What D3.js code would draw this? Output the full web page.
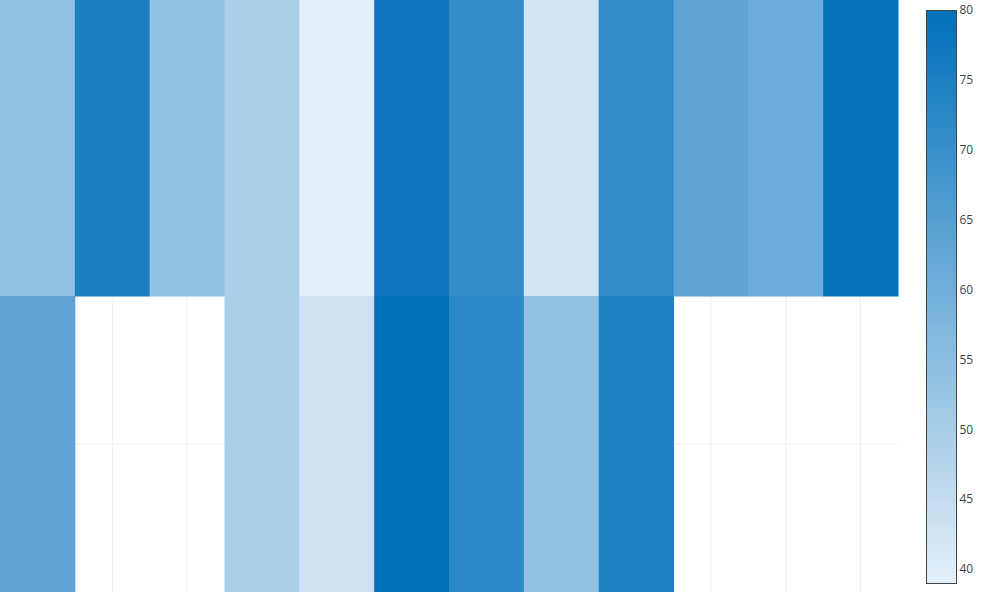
<!DOCTYPE html>
<html>
<head>
<meta charset="utf-8">
<script src="https://cdn.jsdelivr.net/npm/d3@7"></script>
<style>
  html, body { margin: 0; padding: 0; background: #fff; }
  svg { display: block; font-family: "Open Sans", "Noto Sans", sans-serif; }
</style>
</head>
<body>
<svg id="chart" width="982" height="592"></svg>
<script>
// ---- data ----
const columns = ["C1","C2","C3","C4","C5","C6","C7","C8","C9","C10","C11","C12"];
const rows = ["Row B", "Row A"]; // top to bottom
const rowBValues = [53.8, 75.4, 53.6, 49.3, 39.3, 77.3, 70.9, 42.4, 70.9, 63.2, 61.1, 79.2];
const rowAValues = [63.2, null, null, 49.3, 43.5, 80.0, 72.3, 53.8, 74.7, null, null, null];
const colorDomain = [39.0, 80.0];
const colorTicks = [40, 45, 50, 55, 60, 65, 70, 75, 80];
const colorRange = ["#e5f0f9", "#0070ba"];

// ---- layout ----
const svg = d3.select("#chart");
const plot = { left: 0, right: 898, top: 0, bottom: 592 };

const x = d3.scaleBand().domain(columns).range([plot.left, plot.right]).padding(0);
const y = d3.scaleBand().domain(rows).range([plot.top, plot.bottom]).padding(0);
const color = d3.scaleLinear().domain(colorDomain).range(colorRange).interpolate(d3.interpolateRgb).clamp(true);

// gridlines at category centres
const grid = svg.append("g");
grid.selectAll("line.vx").data(columns).join("line")
  .attr("x1", d => x(d) + x.bandwidth() / 2).attr("x2", d => x(d) + x.bandwidth() / 2)
  .attr("y1", plot.top).attr("y2", plot.bottom)
  .attr("stroke", "#eeeeee").attr("stroke-width", 1);
grid.selectAll("line.hy").data(rows).join("line")
  .attr("y1", d => y(d) + y.bandwidth() / 2).attr("y2", d => y(d) + y.bandwidth() / 2)
  .attr("x1", plot.left).attr("x2", plot.right)
  .attr("stroke", "#eeeeee").attr("stroke-width", 1);

// cells
const cells = [];
[[rows[0], rowBValues], [rows[1], rowAValues]].forEach(([r, vals]) => {
  vals.forEach((v, i) => { if (v !== null) cells.push({ row: r, col: columns[i], v }); });
});
svg.append("g").selectAll("rect").data(cells).join("rect")
  .attr("x", d => x(d.col)).attr("y", d => y(d.row))
  .attr("width", x.bandwidth() + 0.5).attr("height", y.bandwidth() + 0.5)
  .attr("fill", d => color(d.v));

// colorbar
const cb = { x: 926.5, y0: 10, y1: 583, w: 30 };
const cbScale = d3.scaleLinear().domain(colorDomain).range([cb.y1, cb.y0]);
const defs = svg.append("defs");
const grad = defs.append("linearGradient").attr("id", "cbgrad")
  .attr("x1", 0).attr("y1", 1).attr("x2", 0).attr("y2", 0);
d3.range(0, 1.0001, 0.1).forEach(t => {
  grad.append("stop").attr("offset", t)
    .attr("stop-color", color(colorDomain[0] + t * (colorDomain[1] - colorDomain[0])));
});
svg.append("rect")
  .attr("x", cb.x).attr("y", cb.y0 + 0.5)
  .attr("width", cb.w).attr("height", cb.y1 - cb.y0)
  .attr("fill", "url(#cbgrad)")
  .attr("stroke", "#444").attr("stroke-width", 1);

const axis = d3.axisRight(cbScale).tickValues(colorTicks).tickSize(0).tickPadding(3).tickFormat(d3.format("d"));
const ag = svg.append("g").attr("transform", `translate(${cb.x + cb.w},0)`).call(axis);
ag.select(".domain").remove();
ag.selectAll("text").attr("fill", "#444").style("font-size", "12px").style("font-family", '"Open Sans", sans-serif');
</script>
</body>
</html>
